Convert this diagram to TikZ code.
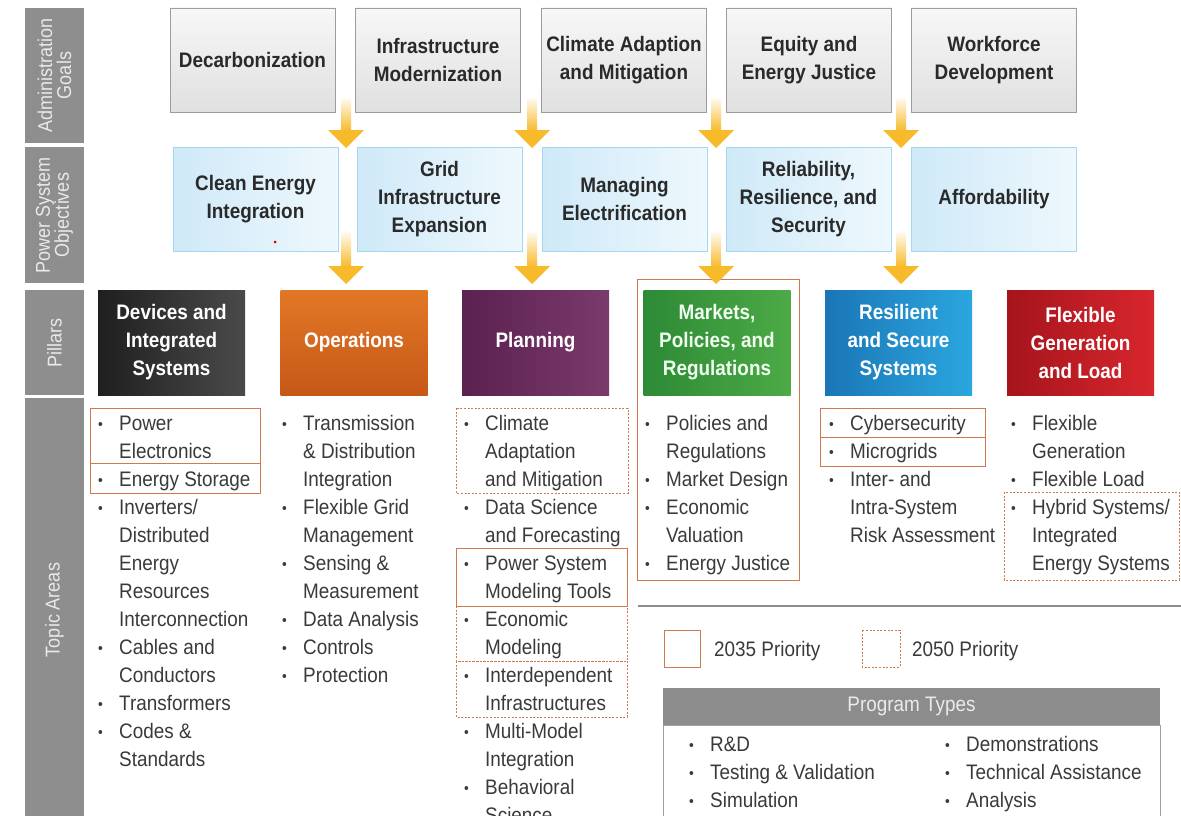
\documentclass[tikz,border=0pt]{standalone}
\usepackage{fontspec}
\setmainfont[FakeStretch=0.9]{Liberation Sans}
\definecolor{SideGray}{HTML}{8E8E8E}
\definecolor{SideText}{HTML}{E9E9E9}
\definecolor{GoalBorder}{HTML}{9C9C9C}
\definecolor{GoalTop}{HTML}{F7F7F7}
\definecolor{GoalBot}{HTML}{E0E0E0}
\definecolor{ObjBorder}{HTML}{A6D7F0}
\definecolor{ObjLeft}{HTML}{CFE9F8}
\definecolor{ObjRight}{HTML}{EEF8FD}
\definecolor{BoxText}{HTML}{2A2A2A}
\definecolor{ItemText}{HTML}{3A3A3A}
\definecolor{ArrowY}{HTML}{F7BA2A}
\definecolor{PrioC}{HTML}{D0784E}
\definecolor{DevL}{HTML}{1F1F1F}\definecolor{DevR}{HTML}{4A4A4A}
\definecolor{OpsT}{HTML}{E27826}\definecolor{OpsB}{HTML}{C65817}
\definecolor{PlaL}{HTML}{5B2150}\definecolor{PlaR}{HTML}{7A3A6C}
\definecolor{MarL}{HTML}{2D8A36}\definecolor{MarR}{HTML}{4DAA46}
\definecolor{ResL}{HTML}{1A76B6}\definecolor{ResR}{HTML}{2BA6DF}
\definecolor{FleL}{HTML}{A5141C}\definecolor{FleR}{HTML}{D8262D}
\definecolor{PTHead}{HTML}{8C8C8C}
\definecolor{PTBorder}{HTML}{A0A0A0}
\newcommand\itm{\makebox[21pt][l]{\raisebox{1pt}{\fontsize{15}{15}\selectfont\textbullet}}}
\newcommand\cnt{\hspace*{21pt}}
\newcommand\yarrow[3]{%
  \shade[top color=ArrowY!6, bottom color=ArrowY] (#1-5,#2) rectangle (#1+5,#3-17);
  \fill[ArrowY] (#1-18,#3-18) -- (#1+18,#3-18) -- (#1,#3) -- cycle;}
\begin{document}
\begin{tikzpicture}[x=1pt,y=-1pt,
  side/.style={fill=SideGray, text=SideText, rotate=90, minimum height=59, inner sep=0,
    align=center, font=\fontsize{20}{19}\selectfont},
  goal/.style={draw=GoalBorder, line width=0.8, top color=GoalTop, bottom color=GoalBot,
    minimum width=165, minimum height=104, inner sep=0, align=center,
    font=\fontsize{21}{28}\selectfont\bfseries, text=BoxText},
  obj/.style={draw=ObjBorder, line width=0.8, left color=ObjLeft, right color=ObjRight,
    minimum width=165, minimum height=104, inner sep=0, align=center,
    font=\fontsize{21}{28}\selectfont\bfseries, text=BoxText},
  pillar/.style={minimum width=147, minimum height=105, inner sep=0, align=center,
    font=\fontsize{21}{28}\selectfont\bfseries, text=white},
  topic/.style={anchor=base west, inner sep=0, text=ItemText,
    font=\fontsize{21}{28}\selectfont},
  prio/.style={draw=PrioC, line width=1},
  prio2/.style={draw=PrioC, line width=1, dash pattern=on 2pt off 1.6pt}
]
\useasboundingbox (0,0) rectangle (1181,816);
\fill[white] (0,0) rectangle (1181,816);

% left column
\node[side, minimum width=135] (s1) at (54.5,75.5) {Administration\\Goals};
\node[side, minimum width=136] (s2) at (54.5,215) {Power System\\Objectives};
\node[side, minimum width=105] (s3) at (54.5,342.5) {Pillars};
\node[side, minimum width=424] (s4) at (54.5,610) {Topic Areas};

% goals
\node[goal] (g1) at (252.5,60) {Decarbonization};
\node[goal] (g2) at (438,60) {Infrastructure\\Modernization};
\node[goal] (g3) at (624,60) {Climate Adaption\\and Mitigation};
\node[goal] (g4) at (809,60) {Equity and\\Energy Justice};
\node[goal] (g5) at (994,60) {Workforce\\Development};

% objectives
\node[obj] (o1) at (255.5,199) {Clean Energy\\Integration};
\node[obj] (o2) at (439.5,199) {Grid\\Infrastructure\\Expansion};
\node[obj] (o3) at (624.5,199) {Managing\\Electrification};
\node[obj] (o4) at (808.5,199) {Reliability,\\Resilience, and\\Security};
\node[obj] (o5) at (994,199) {Affordability};
\fill[red!80!black] (275,242) circle (1.5);

% markets outer box
\draw[prio] (637,279) rectangle (799,580);

% pillars
\node[pillar, left color=DevL, right color=DevR] (p1) at (171.5,342.5) {Devices and\\Integrated\\Systems};
\node[pillar, top color=OpsT, bottom color=OpsB] (p2) at (354,342.5) {Operations};
\node[pillar, left color=PlaL, right color=PlaR] (p3) at (535.5,342.5) {Planning};
\node[pillar, left color=MarL, right color=MarR, text=green!6] (p4) at (717,342.5) {Markets,\\Policies, and\\Regulations};
\node[pillar, left color=ResL, right color=ResR] (p5) at (898.5,342.5) {Resilient\\and Secure\\Systems};
\node[pillar, left color=FleL, right color=FleR] (p6) at (1080.5,342.5) {Flexible\\Generation\\and Load};

% arrows
\yarrow{346}{98}{148}
\yarrow{532}{98}{148}
\yarrow{716}{98}{148}
\yarrow{901}{98}{148}
\yarrow{346}{232}{284}
\yarrow{532}{232}{284}
\yarrow{716}{232}{284}
\yarrow{901}{232}{284}

% priority boxes
\draw[prio] (90,408) rectangle (260,463);
\draw[prio] (90,463) rectangle (260,493);
\draw[prio2] (456,408) rectangle (628,493);
\draw[prio] (456,548) rectangle (627,606);
\draw[prio2] (456,606) rectangle (627,661);
\draw[prio2] (456,661) rectangle (627,717);
\draw[prio] (820,408) rectangle (985,437);
\draw[prio] (820,437) rectangle (985,466);
\draw[prio2] (1004,492) rectangle (1179,580);

% topic lists
\node[topic] (t1) at (98,430) {\begin{tabular}[t]{@{}l@{}}
\itm Power\\ \cnt Electronics\\ \itm Energy Storage\\ \itm Inverters/\\ \cnt Distributed\\
\cnt Energy\\ \cnt Resources\\ \cnt Interconnection\\ \itm Cables and\\ \cnt Conductors\\
\itm Transformers\\ \itm Codes \&\\ \cnt Standards\end{tabular}};
\node[topic] (t2) at (282,430) {\begin{tabular}[t]{@{}l@{}}
\itm Transmission\\ \cnt \& Distribution\\ \cnt Integration\\ \itm Flexible Grid\\ \cnt Management\\
\itm Sensing \&\\ \cnt Measurement\\ \itm Data Analysis\\ \itm Controls\\ \itm Protection\end{tabular}};
\node[topic] (t3) at (464,430) {\begin{tabular}[t]{@{}l@{}}
\itm Climate\\ \cnt Adaptation\\ \cnt and Mitigation\\ \itm Data Science\\ \cnt and Forecasting\\
\itm Power System\\ \cnt Modeling Tools\\ \itm Economic\\ \cnt Modeling\\ \itm Interdependent\\
\cnt Infrastructures\\ \itm Multi-Model\\ \cnt Integration\\ \itm Behavioral\\ \cnt Science\end{tabular}};
\node[topic] (t4) at (645,430) {\begin{tabular}[t]{@{}l@{}}
\itm Policies and\\ \cnt Regulations\\ \itm Market Design\\ \itm Economic\\ \cnt Valuation\\
\itm Energy Justice\end{tabular}};
\node[topic] (t5) at (829,430) {\begin{tabular}[t]{@{}l@{}}
\itm Cybersecurity\\ \itm Microgrids\\ \itm Inter- and\\ \cnt Intra-System\\ \cnt Risk Assessment\end{tabular}};
\node[topic] (t6) at (1011,430) {\begin{tabular}[t]{@{}l@{}}
\itm Flexible\\ \cnt Generation\\ \itm Flexible Load\\ \itm Hybrid Systems/\\ \cnt Integrated\\
\cnt Energy Systems\end{tabular}};

% separator line
\draw[PTHead, line width=1.2] (638,606) -- (1181,606);

% legend
\draw[prio] (664,630) rectangle (700,667);
\node[topic] (l1) at (714,656) {2035 Priority};
\draw[prio2] (862,630) rectangle (900,667);
\node[topic] (l2) at (912,656) {2050 Priority};

% program types
\draw[PTBorder, line width=1] (663,725) rectangle (1160,830);
\node[fill=PTHead, text=white!92!black, minimum width=497, minimum height=37, inner sep=0,
  font=\fontsize{21}{28}\selectfont] (pt) at (911.5,706.5) {Program Types};
\node[topic] (pl) at (689,751) {\begin{tabular}[t]{@{}l@{}}
\itm R\&D\\ \itm Testing \& Validation\\ \itm Simulation\end{tabular}};
\node[topic] (pr) at (945,751) {\begin{tabular}[t]{@{}l@{}}
\itm Demonstrations\\ \itm Technical Assistance\\ \itm Analysis\end{tabular}};
\end{tikzpicture}
\end{document}
